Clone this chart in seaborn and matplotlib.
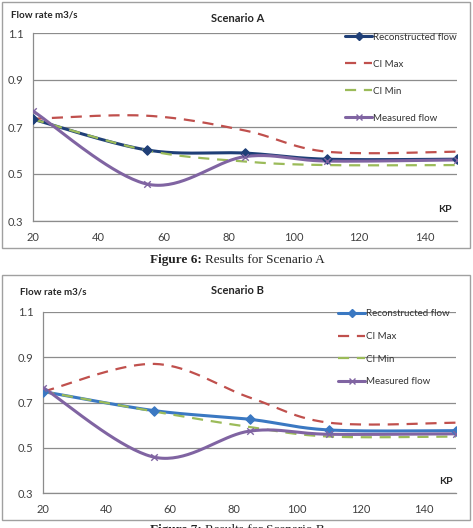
import numpy as np
import pandas as pd
import matplotlib
matplotlib.use("Agg")
import matplotlib.pyplot as plt
from matplotlib.lines import Line2D
from matplotlib.patches import Rectangle
import seaborn as sns

sns.set_style("white")
plt.rcParams['font.family'] = ['Lato', 'DejaVu Sans']

# ---- data ----
kp = [20, 55, 85, 110, 150]
a_recon = [0.733, 0.602, 0.589, 0.563, 0.563]
a_cimax = [0.735, 0.748, 0.685, 0.595, 0.595]
a_cimin = [0.733, 0.600, 0.553, 0.538, 0.538]
a_meas = [0.768, 0.457, 0.574, 0.555, 0.560]

b_recon = [0.748, 0.664, 0.626, 0.579, 0.576]
b_cimax = [0.748, 0.870, 0.722, 0.611, 0.611]
b_cimin = [0.748, 0.660, 0.592, 0.550, 0.550]
b_meas = [0.765, 0.459, 0.574, 0.560, 0.562]

x_ticks = [20, 40, 60, 80, 100, 120, 140]
y_ticks = [0.3, 0.5, 0.7, 0.9, 1.1]
series_names = ["Reconstructed flow", "CI Max", "CI Min", "Measured flow"]

C_RED = "#C0504D"
C_GREEN = "#9BBB59"
C_PURPLE = "#8064A2"


def smooth(xs, ys, xr, yr, n=40):
    """Excel-like smoothed line (Catmull-Rom Bezier) in normalised space."""
    x = (np.asarray(xs, float) - xr[0]) / (xr[1] - xr[0]) * 4.2
    y = (np.asarray(ys, float) - yr[0]) / (yr[1] - yr[0]) * 1.9
    P = np.column_stack([x, y])
    P = np.vstack([P[0], P, P[-1]])
    out = []
    t = np.linspace(0, 1, n)[:, None]
    for i in range(1, len(P) - 2):
        p0, p1, p2, p3 = P[i - 1], P[i], P[i + 1], P[i + 2]
        c1 = p1 + (p2 - p0) / 6
        c2 = p2 - (p3 - p1) / 6
        seg = ((1 - t) ** 3) * p1 + 3 * ((1 - t) ** 2) * t * c1 + 3 * (1 - t) * t ** 2 * c2 + t ** 3 * p2
        out.append(seg if i == 1 else seg[1:])
    out = np.vstack(out)
    return out[:, 0] / 4.2 * (xr[1] - xr[0]) + xr[0], out[:, 1] / 1.9 * (yr[1] - yr[0]) + yr[0]


fig = plt.figure(figsize=(4.73, 5.28), dpi=100)
W, H = 473.0, 528.0


def px(x, y):
    return x / W, 1 - y / H


def draw(ax, data, recon_color, legend_spacing, legend_anchor):
    xr, yr = (20, 150), (0.3, 1.1)
    styles = [
        (data[0], recon_color, "-", "D", 2.2),
        (data[1], C_RED, (0, (5, 3.5)), None, 1.6),
        (data[2], C_GREEN, (0, (5, 3.5)), None, 1.6),
        (data[3], C_PURPLE, "-", "x", 2.2),
    ]
    order = [1, 2, 0, 3]
    handles = []
    for k in order:
        vals, col, ls, mk, lw = styles[k]
        sx, sy = smooth(kp, vals, xr, yr)
        df = pd.DataFrame({"x": sx, "y": sy})
        sns.lineplot(data=df, x="x", y="y", ax=ax, color=col, lw=lw, sort=False,
                     estimator=None, zorder=3 + k)
        if ls != "-":
            ax.lines[-1].set_linestyle(ls)
        if mk is not None:
            dfp = pd.DataFrame({"x": kp, "y": vals})
            sns.scatterplot(data=dfp, x="x", y="y", ax=ax, marker=mk, s=22,
                            color=col, edgecolor=col if mk == "D" else None,
                            linewidth=1.0, zorder=10 + k)
    for k in range(4):
        vals, col, ls, mk, lw = styles[k]
        handles.append(Line2D([0], [0], color=col, lw=lw, ls=ls, marker=mk,
                              markersize=4.5, markeredgewidth=1.0))
    ax.set_xlim(*xr)
    ax.set_ylim(*yr)
    ax.set_xticks(x_ticks)
    ax.set_xticklabels([str(v) for v in x_ticks])
    ax.set_yticks(y_ticks)
    ax.set_yticklabels([f"{v:.1f}" for v in y_ticks])
    ax.set_xlabel("")
    ax.set_ylabel("")
    ax.grid(axis="y", color="#8C8C8C", lw=0.9)
    ax.grid(axis="x", visible=False)
    for s in ["top", "right"]:
        ax.spines[s].set_visible(False)
    for s in ["left", "bottom"]:
        ax.spines[s].set_color("#8C8C8C")
        ax.spines[s].set_linewidth(0.9)
    ax.tick_params(axis="both", direction="out", length=4, width=0.9,
                   color="#8C8C8C", labelsize=8, labelcolor="#404040", pad=3)
    ax.tick_params(axis="x", pad=4)
    ax.set_axisbelow(True)
    leg = ax.legend(handles, series_names, loc="upper left", bbox_to_anchor=legend_anchor,
                    bbox_transform=fig.transFigure, frameon=False, fontsize=7,
                    labelspacing=legend_spacing, handlelength=2.8, handletextpad=0.1,
                    borderaxespad=0, borderpad=0)
    for t in leg.get_texts():
        t.set_color("#333333")
    ax.set_zorder(2)


# ---- top chart ----
fig.add_artist(Rectangle(px(2, 248), 468 / W, 246 / H, transform=fig.transFigure,
                         fill=False, ec="#A0A0A0", lw=1.0))
l, b = px(33, 221)
ax1 = fig.add_axes([l, b, (457 - 33) / W, (221 - 33) / H])
draw(ax1, [a_recon, a_cimax, a_cimin, a_meas], "#1F3F77", 1.86, px(345, 32.5))
fig.text(*px(11, 15), "Flow rate m3/s", fontsize=7, fontweight="bold", va="center", ha="left")
fig.text(*px(211, 18), "Scenario A", fontsize=8, fontweight="bold", va="center", ha="left")
fig.text(*px(445, 210), "KP", fontsize=7.5, fontweight="bold", va="center", ha="center")

# caption
fig.text(*px(202, 260), "Figure 6:", family="Liberation Serif", fontsize=9.5,
         fontweight="bold", va="center", ha="right", color="#222222")
fig.text(*px(205, 260), "Results for Scenario A", family="Liberation Serif", fontsize=9.5,
         va="center", ha="left", color="#222222")

# ---- bottom chart ----
fig.add_artist(Rectangle(px(2, 520), 468 / W, 245 / H, transform=fig.transFigure,
                         fill=False, ec="#A0A0A0", lw=1.0))
l, b = px(43.3, 493.3)
ax2 = fig.add_axes([l, b, (456 - 43.3) / W, (493.3 - 311.7) / H])
draw(ax2, [b_recon, b_cimax, b_cimin, b_meas], "#3A78C2", 1.4, px(338, 309.5))
fig.text(*px(20, 292), "Flow rate m3/s", fontsize=7, fontweight="bold", va="center", ha="left")
fig.text(*px(211, 290), "Scenario B", fontsize=8, fontweight="bold", va="center", ha="left")
fig.text(*px(446, 481), "KP", fontsize=7.5, fontweight="bold", va="center", ha="center")

fig.text(*px(202, 524), "Figure 7:", family="Liberation Serif", fontsize=9.5,
         fontweight="bold", va="top", ha="right", color="#222222")
fig.text(*px(205, 524), "Results for Scenario B", family="Liberation Serif", fontsize=9.5,
         va="top", ha="left", color="#222222")

fig.savefig("out.png", dpi=100)
